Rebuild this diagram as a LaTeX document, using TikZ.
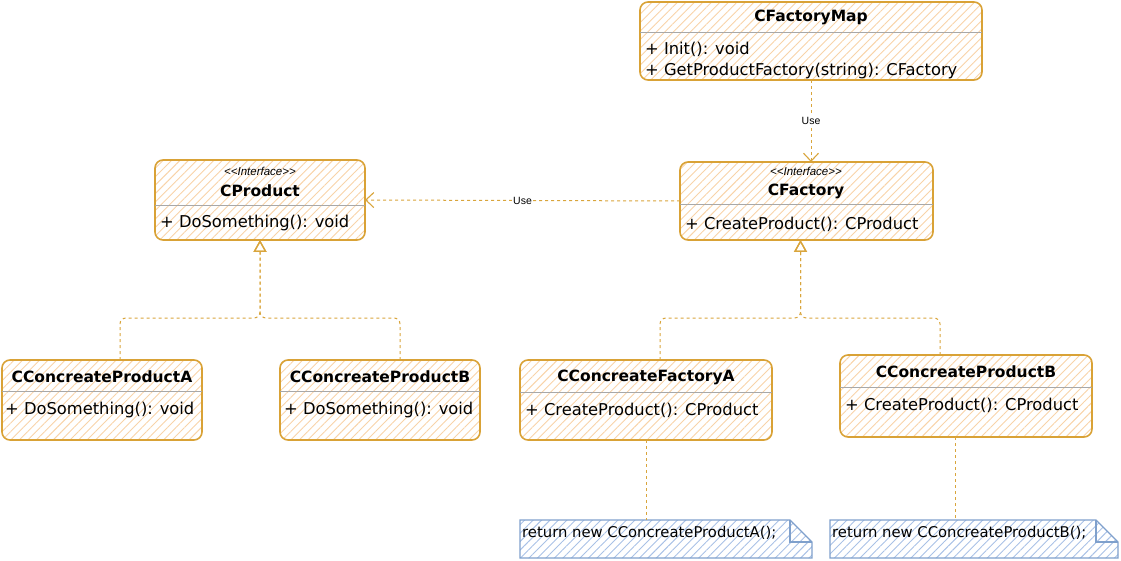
\documentclass[tikz,border=0pt]{standalone}
\usepackage{fontspec}
\setmainfont{DejaVu Sans}
\newfontfamily\helv{Liberation Sans}
\usetikzlibrary{arrows.meta,patterns.meta,calc}
\definecolor{boxline}{HTML}{D9A236}
\definecolor{hatch}{HTML}{F8D3A8}
\definecolor{divline}{HTML}{A8A8A8}
\definecolor{linkc}{HTML}{D9A53C}
\definecolor{notehatch}{HTML}{A9C1E6}
\definecolor{noteline}{HTML}{7FA0CC}

\begin{document}
\begin{tikzpicture}[x=1pt,y=-1pt,
  umlbox/.style={draw=boxline, line width=1.6pt, rounded corners=8pt,
    anchor=north west, inner sep=0pt, outer sep=0pt,
    pattern={Lines[angle=45,distance=6pt,line width=0.9pt]}, pattern color=hatch},
  notebox/.style={anchor=north west, inner sep=0pt, outer sep=0pt},
  noteoutline/.style={draw=noteline, line width=1.1pt,
    pattern={Lines[angle=45,distance=6pt,line width=0.9pt]}, pattern color=notehatch},
  divider/.style={draw=divline, line width=0.7pt},
  title/.style={font=\fontsize{15.5pt}{18pt}\selectfont\bfseries, inner sep=0pt},
  member/.style={font=\fontsize{16.3pt}{19pt}\selectfont, anchor=west, inner sep=0pt},
  stereo/.style={font=\helv\itshape\fontsize{11.5pt}{13pt}\selectfont, inner sep=0pt},
  notetext/.style={font=\fontsize{14.8pt}{17pt}\selectfont, anchor=west, inner sep=0pt},
  uselbl/.style={font=\helv\fontsize{10.5pt}{12pt}\selectfont, fill=white, inner sep=1pt},
  dep/.style={draw=linkc, line width=1pt, dash pattern=on 3pt off 3pt,
    -{Straight Barb[length=8pt,width=15pt,line width=1.1pt]}},
  real/.style={draw=linkc, line width=1pt, dash pattern=on 3pt off 3pt, rounded corners=6pt,
    -{Triangle[open,length=12pt,width=13pt,line width=1.3pt]}},
  notelink/.style={draw=linkc, line width=1pt, dash pattern=on 3pt off 3pt}
]
\useasboundingbox (0,0) rectangle (1121,561);

% ---------- CFactoryMap ----------
\node[umlbox, minimum width=342pt, minimum height=78pt] (map) at (640,2) {};
\node[title] (mapT) at (811,17) {CFactoryMap};
\draw[divider] ([yshift=-30pt]map.north west) -- ([yshift=-30pt]map.north east);
\node[member] (mapM1) at (645,49) {+ Init(): void};
\node[member] (mapM2) at (645,71) {+ GetProductFactory(string): CFactory};

% ---------- CProduct ----------
\node[umlbox, minimum width=210pt, minimum height=80pt] (prod) at (155,160) {};
\node[stereo] (prodS) at (260,171) {<\kern0pt<Interface>\kern0pt>};
\node[title] (prodT) at (260,191) {CProduct};
\draw[divider] ([yshift=-45pt]prod.north west) -- ([yshift=-45pt]prod.north east);
\node[member] (prodM1) at (160,223) {+ DoSomething(): void};

% ---------- CFactory ----------
\node[umlbox, minimum width=253pt, minimum height=78pt] (fac) at (680,162) {};
\node[stereo] (facS) at (806,171) {<\kern0pt<Interface>\kern0pt>};
\node[title] (facT) at (806,191) {CFactory};
\draw[divider] ([yshift=-42pt]fac.north west) -- ([yshift=-42pt]fac.north east);
\node[member] (facM1) at (685,224) {+ CreateProduct(): CProduct};

% ---------- CConcreateProductA ----------
\node[umlbox, minimum width=200pt, minimum height=80pt] (pa) at (2,360) {};
\node[title] (paT) at (102,377) {CConcreateProductA};
\draw[divider] ([yshift=-31pt]pa.north west) -- ([yshift=-31pt]pa.north east);
\node[member] (paM1) at (5,410) {+ DoSomething(): void};

% ---------- CConcreateProductB (left) ----------
\node[umlbox, minimum width=200pt, minimum height=80pt] (pb) at (280,360) {};
\node[title] (pbT) at (380,377) {CConcreateProductB};
\draw[divider] ([yshift=-31pt]pb.north west) -- ([yshift=-31pt]pb.north east);
\node[member] (pbM1) at (284,410) {+ DoSomething(): void};

% ---------- CConcreateFactoryA ----------
\node[umlbox, minimum width=252pt, minimum height=80pt] (fa) at (520,360) {};
\node[title] (faT) at (646,377) {CConcreateFactoryA};
\draw[divider] ([yshift=-32pt]fa.north west) -- ([yshift=-32pt]fa.north east);
\node[member] (faM1) at (525,410) {+ CreateProduct(): CProduct};

% ---------- CConcreateProductB (right) ----------
\node[umlbox, minimum width=252pt, minimum height=82pt] (pb2) at (840,355) {};
\node[title] (pb2T) at (966,372) {CConcreateProductB};
\draw[divider] ([yshift=-32pt]pb2.north west) -- ([yshift=-32pt]pb2.north east);
\node[member] (pb2M1) at (845,405) {+ CreateProduct(): CProduct};

% ---------- notes ----------
\node[notebox, minimum width=292pt, minimum height=38pt] (noteA) at (520,520) {};
\draw[noteoutline] (noteA.south west) -- (noteA.north west) -- ([xshift=-22pt]noteA.north east)
  -- ([yshift=-22pt]noteA.north east) -- (noteA.south east) -- cycle;
\draw[draw=noteline, line width=1.1pt] ([xshift=-22pt]noteA.north east) -- ([xshift=-22pt,yshift=-22pt]noteA.north east)
  -- ([yshift=-22pt]noteA.north east);
\node[notetext] (noteAT) at (522,533) {return new CConcreateProductA();};

\node[notebox, minimum width=288pt, minimum height=38pt] (noteB) at (830,520) {};
\draw[noteoutline] (noteB.south west) -- (noteB.north west) -- ([xshift=-22pt]noteB.north east)
  -- ([yshift=-22pt]noteB.north east) -- (noteB.south east) -- cycle;
\draw[draw=noteline, line width=1.1pt] ([xshift=-22pt]noteB.north east) -- ([xshift=-22pt,yshift=-22pt]noteB.north east)
  -- ([yshift=-22pt]noteB.north east);
\node[notetext] (noteBT) at (832,533) {return new CConcreateProductB();};

% ---------- dependencies ----------
\draw[dep] (map.south) -- node[uselbl] {Use} (map.south |- fac.north);
\draw[dep] (fac.west) -- node[uselbl] {Use} (prod.east);

% ---------- realizations ----------
\draw[real] ([xshift=18pt]pa.north) -- ++(0,-42) -| (prod.south);
\draw[real] ([xshift=20pt]pb.north) -- ++(0,-42) -| (prod.south);
\draw[real] ([xshift=14pt]fa.north) -- ++(0,-42) -| ([xshift=-6pt]fac.south);
\draw[real] ([xshift=-26pt]pb2.north) -- ++(0,-37) -| ([xshift=-6pt]fac.south);

% ---------- note links ----------
\draw[notelink] (fa.south) -- (fa.south |- noteA.north);
\draw[notelink] ([xshift=-11pt]pb2.south) -- ([xshift=-11pt]pb2.south |- noteB.north);
\end{tikzpicture}
\end{document}
